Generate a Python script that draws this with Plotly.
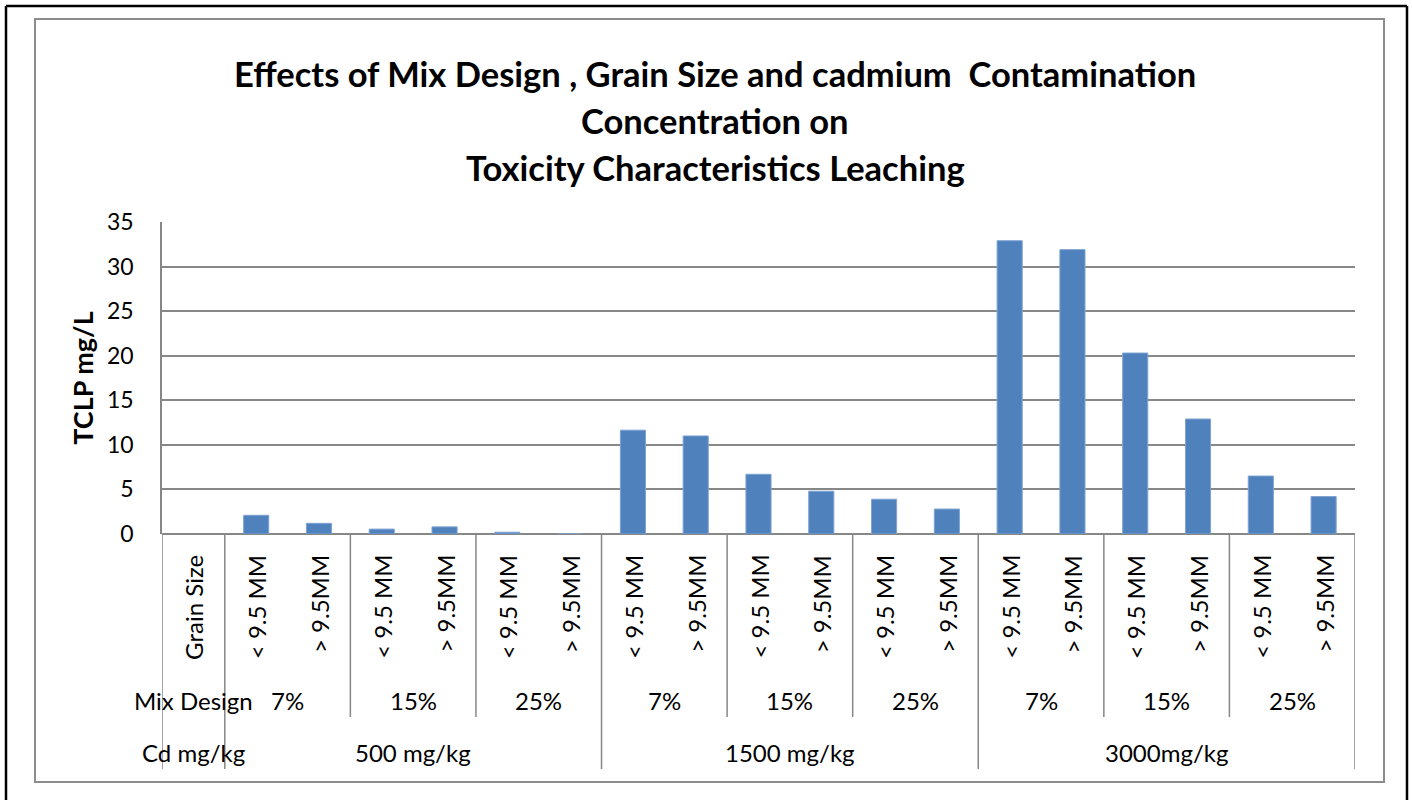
import plotly.graph_objects as go

# ---------------- data ----------------
grain_sizes = ["< 9.5 MM", "> 9.5MM"] * 9
mix_designs = ["7%", "15%", "25%"] * 3
cd_levels = ["500 mg/kg", "1500 mg/kg", "3000mg/kg"]
tclp_values = [2.1, 1.2, 0.55, 0.8, 0.2, 0.0,
               11.65, 11.0, 6.7, 4.8, 3.9, 2.8,
               32.9, 31.9, 20.3, 12.9, 6.5, 4.2]
row_headers = ["Grain Size", "Mix Design", "Cd mg/kg"]
title_lines = ["Effects of Mix Design , Grain Size and cadmium  Contamination",
               "Concentration on",
               "Toxicity Characteristics Leaching"]
y_ticks = [0, 5, 10, 15, 20, 25, 30, 35]

# ---------------- layout geometry (pixels) ----------------
W, H = 1412, 800
PL, PR, PT, PB = 162, 1355, 222, 534
FONT = "Lato"
GRID = "#878787"
LBL = 24


def px(x):
    return (x - PL) / (PR - PL)


def py(y):
    return (PB - y) / (PB - PT)


n_slots = len(tclp_values) + 1          # slot 0 holds the row headers
bar_x = list(range(1, n_slots))

fig = go.Figure()
fig.add_trace(go.Bar(
    x=bar_x, y=tclp_values,
    marker=dict(color="#4F81BD", line=dict(color="#7FA3D2", width=1)),
    width=0.4, showlegend=False, hoverinfo="y"))

shapes = []
annotations = []

# title
for i, t in enumerate(title_lines):
    annotations.append(dict(text=f"<b>{t}</b>", x=px(715), y=py(74 + 46.5 * i),
                            xref="paper", yref="paper", showarrow=False,
                            xanchor="center", yanchor="middle",
                            font=dict(family=FONT, size=34.5, color="black")))

# row-header column (slot 0)
annotations.append(dict(text=row_headers[0], x=0, y=py(553), xref="x", yref="paper",
                        textangle=-90, showarrow=False, xanchor="center", yanchor="top",
                        font=dict(family=FONT, size=LBL, color="black")))
annotations.append(dict(text=row_headers[1], x=0, y=py(700), xref="x", yref="paper",
                        showarrow=False, xanchor="center", yanchor="middle",
                        font=dict(family=FONT, size=LBL, color="black")))
annotations.append(dict(text=row_headers[2], x=0, y=py(752), xref="x", yref="paper",
                        showarrow=False, xanchor="center", yanchor="middle",
                        font=dict(family=FONT, size=LBL, color="black")))

# grain size labels (rotated)
for xi, g in zip(bar_x, grain_sizes):
    annotations.append(dict(text=g, x=xi, y=py(553), xref="x", yref="paper",
                            textangle=-90, showarrow=False, xanchor="center", yanchor="top",
                            font=dict(family=FONT, size=LBL, color="black")))

# mix design labels
for j, m in enumerate(mix_designs):
    center = 1 + 2 * j + 0.5
    annotations.append(dict(text=m, x=center, y=py(700), xref="x", yref="paper",
                            showarrow=False, xanchor="center", yanchor="middle",
                            font=dict(family=FONT, size=LBL, color="black")))

# cd labels
for k, c in enumerate(cd_levels):
    center = 1 + 6 * k + 2.5
    annotations.append(dict(text=c, x=center, y=py(752), xref="x", yref="paper",
                            showarrow=False, xanchor="center", yanchor="middle",
                            font=dict(family=FONT, size=LBL, color="black")))

# separator lines in the category area
line_style = dict(color=GRID, width=1.5)
for b in [-0.5, 0.5] + [0.5 + 6 * (k + 1) for k in range(3)]:
    shapes.append(dict(type="line", xref="x", yref="paper", x0=b, x1=b,
                       y0=py(PB), y1=py(769), line=line_style))
for j in range(len(mix_designs)):
    b = 0.5 + 2 * (j + 1)
    if (j + 1) % 3 != 0:
        shapes.append(dict(type="line", xref="x", yref="paper", x0=b, x1=b,
                           y0=py(PB), y1=py(717), line=line_style))

# frames
shapes.append(dict(type="rect", xref="paper", yref="paper",
                   x0=px(35), x1=px(1384), y0=py(782), y1=py(19),
                   line=dict(color="#8c8c8c", width=2), layer="below"))
shapes.append(dict(type="line", xref="paper", yref="paper",
                   x0=px(6), x1=px(1407), y0=py(6), y1=py(6),
                   line=dict(color="black", width=2.5)))
shapes.append(dict(type="line", xref="paper", yref="paper",
                   x0=px(6), x1=px(6), y0=py(6), y1=py(800),
                   line=dict(color="black", width=2.5)))
shapes.append(dict(type="line", xref="paper", yref="paper",
                   x0=px(1407), x1=px(1407), y0=py(6), y1=py(800),
                   line=dict(color="black", width=2.5)))

fig.update_layout(
    width=W, height=H,
    margin=dict(l=PL, r=W - PR, t=PT, b=H - PB),
    paper_bgcolor="white", plot_bgcolor="white",
    shapes=shapes, annotations=annotations,
    bargap=0.6,
    xaxis=dict(range=[-0.5, n_slots - 0.5], showticklabels=False, showgrid=False,
               zeroline=False, showline=False, fixedrange=True),
    yaxis=dict(range=[0, 35], tickvals=y_ticks, showgrid=True, gridcolor=GRID,
               gridwidth=1.5, zeroline=True, zerolinecolor=GRID, zerolinewidth=1.5,
               showline=True, linecolor=GRID, linewidth=1.5,
               ticks="outside", ticklen=0, ticklabelstandoff=22,
               tickfont=dict(family=FONT, size=23, color="black"),
               title=dict(text="<b>TCLP mg/L</b>", standoff=6,
                          font=dict(family=FONT, size=27, color="black"))),
)

fig.write_html("out.html", config={"displayModeBar": False},
               post_script="document.body.style.margin='0';")
